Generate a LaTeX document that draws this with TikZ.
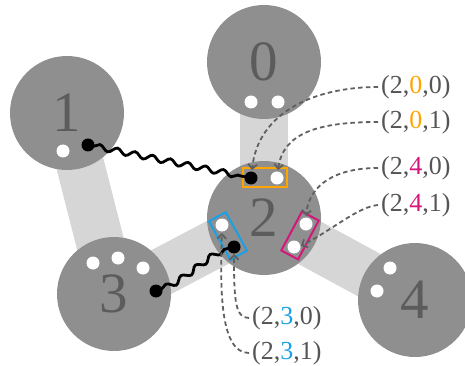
\documentclass[tikz,border=0pt]{standalone}
\usepackage{fontspec}
\setmainfont{Liberation Serif}
\usetikzlibrary{decorations.pathmorphing,arrows.meta}
\definecolor{nodegray}{HTML}{8F8F8F}
\definecolor{bandgray}{HTML}{D6D6D6}
\definecolor{digitgray}{HTML}{5C5C5C}
\definecolor{labgray}{HTML}{555555}
\definecolor{conngray}{HTML}{606060}
\definecolor{myorange}{HTML}{FFA500}
\definecolor{myblue}{HTML}{1BA0E6}
\definecolor{mymagenta}{HTML}{D4177A}
\tikzset{
  band/.style={line width=48pt, draw=bandgray},
  bignode/.style={circle, fill=nodegray, minimum size=114pt, inner sep=0pt, text=digitgray, font=\fontsize{57}{57}\selectfont},
  wdot/.style={circle, fill=white, minimum size=13pt, inner sep=0pt},
  bdot/.style={circle, fill=black, minimum size=13pt, inner sep=0pt},
  portbox/.style={draw, line width=2pt, minimum width=44pt, minimum height=19pt, inner sep=0pt},
  wave/.style={draw=black, line width=2.8pt, decorate, decoration={snake, amplitude=2.8pt, segment length=18pt, pre length=6pt, post length=6pt}},
  conn/.style={draw=conngray, line width=1.8pt, dash pattern=on 4.5pt off 3.2pt, -{Straight Barb[length=4.5pt,width=9pt]}},
  lab/.style={anchor=west, inner sep=3pt, text=labgray, font=\fontsize{26}{26}\selectfont}
}
\begin{document}
\begin{tikzpicture}[x=1pt,y=-1pt]
\useasboundingbox (0,0) rectangle (465,366);
% nodes positions
\coordinate (p0) at (264,62);
\coordinate (p1) at (67,113);
\coordinate (p2) at (264,218);
\coordinate (p3) at (114,297);
\coordinate (p4) at (415,300);
% bands
\draw[band] (p0) -- (p2);
\draw[band] (p1) -- (p3);
\draw[band] (p3) -- (p2);
\draw[band] (p2) -- (p4);
% big nodes
\node[bignode] (n0) at (p0) {0};
\node[bignode] (n1) at (p1) {1};
\node[bignode] (n2) at (p2) {2};
\node[bignode] (n3) at ([yshift=3pt]p3) {3};
\node[bignode] (n4) at (p4) {4};
% white dots
\node[wdot] (d0a) at (251,102) {};
\node[wdot] (d0b) at (278,102) {};
\node[wdot] (d1a) at (63,151) {};
\node[wdot] (d3a) at (93,263) {};
\node[wdot] (d3b) at (118,258) {};
\node[wdot] (d3c) at (143,268) {};
\node[wdot] (d4a) at (390,268) {};
\node[wdot] (d4b) at (377,291) {};
\node[wdot] (d2o) at (277,178) {};
\node[wdot] (d2b) at (222,225) {};
\node[wdot] (d2m1) at (306,224) {};
\node[wdot] (d2m2) at (294,247) {};
% port boxes
\node[portbox, draw=myorange] (bo) at (265,177.5) {};
\node[portbox, draw=myblue, rotate=-61] (bb) at (228,236) {};
\node[portbox, draw=mymagenta, rotate=62] (bm) at (300,235.5) {};
% black dots and waves
\coordinate (w1) at (88,145);
\coordinate (w2a) at (251,178);
\coordinate (w3) at (156,291);
\coordinate (w2b) at (234,247);
\draw[wave] (w1) -- (w2a);
\draw[wave] (w3) .. controls (185,282) and (205,252) .. (w2b);
\node[bdot] (b1) at (w1) {};
\node[bdot] (b2a) at (w2a) {};
\node[bdot] (b3) at (w3) {};
\node[bdot] (b2b) at (w2b) {};
% labels
\node[lab] (l200) at (378,87) {(2,{\color{myorange}0},0)};
\node[lab] (l201) at (378,122) {(2,{\color{myorange}0},1)};
\node[lab] (l240) at (378,168) {(2,{\color{mymagenta}4},0)};
\node[lab] (l241) at (378,205) {(2,{\color{mymagenta}4},1)};
\node[lab] (l230) at (249,318) {(2,{\color{myblue}3},0)};
\node[lab] (l231) at (249,353) {(2,{\color{myblue}3},1)};
% targets
\coordinate (t200) at (252,170);
\coordinate (t201) at (278,170);
\coordinate (t240) at (306,216);
\coordinate (t241) at (301,246);
\coordinate (t230) at (234,254);
\coordinate (t231) at (222,233);
% connectors
\draw[conn] (l200.west) .. controls (315,87) and (258,112) .. (t200);
\draw[conn] (l201.west) .. controls (318,122) and (283,133) .. (t201);
\draw[conn] (l240.west) .. controls (335,168) and (309,185) .. (t240);
\draw[conn] (l241.west) .. controls (358,207) and (335,228) .. (t241);
\draw[conn] (l230.west) .. controls (235,318) and (234,300) .. (t230);
\draw[conn] (l231.west) .. controls (220,353) and (220,290) .. (t231);
\end{tikzpicture}
\end{document}
